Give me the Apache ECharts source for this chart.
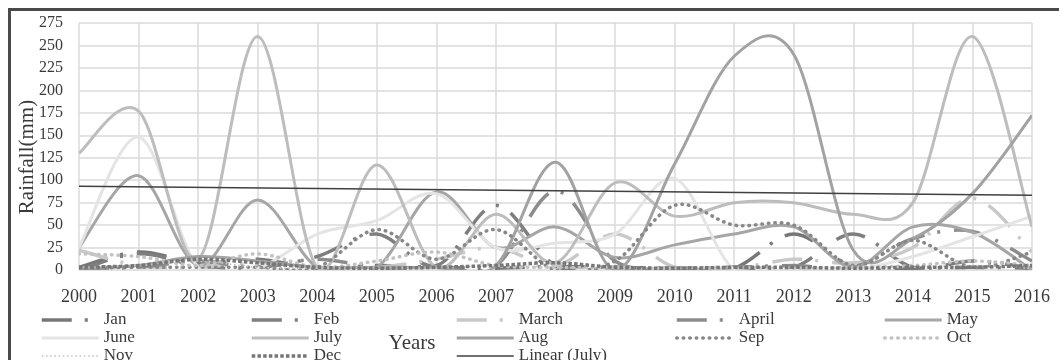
<!DOCTYPE html>
<html>
<head>
<meta charset="utf-8">
<title>Rainfall</title>
<script src="https://cdn.jsdelivr.net/npm/echarts@6/dist/echarts.min.js"></script>
<style>
  html, body { margin: 0; padding: 0; background: #fff; }
  #chart { width: 1059px; height: 360px; }
</style>
</head>
<body>
<div id="chart"></div>
<script>
// years on the x axis
const years = ["2000", "2001", "2002", "2003", "2004", "2005", "2006", "2007", "2008",
  "2009", "2010", "2011", "2012", "2013", "2014", "2015", "2016"];
const yTicks = { min: 0, max: 275, step: 25 };

// monthly rainfall (mm)
const jan   = [3, 20, 8, 12, 2, 5, 3, 2, 4, 3, 2, 2, 40, 3, 2, 3, 2];
const feb   = [0, 18, 5, 3, 15, 40, 5, 72, 5, 3, 2, 3, 3, 40, 3, 10, 2];
const march = [22, 5, 3, 8, 3, 3, 12, 25, 5, 40, 3, 2, 12, 8, 25, 80, 20];
const april = [2, 3, 10, 3, 12, 3, 3, 5, 88, 10, 2, 3, 5, 3, 35, 43, 10];
const may   = [25, 105, 5, 78, 3, 3, 87, 25, 48, 14, 28, 40, 48, 3, 48, 42, 0];
const june  = [25, 148, 3, 2, 40, 55, 85, 25, 30, 40, 102, 0, 0, 0, 15, 37, 60];
const july  = [130, 177, 12, 260, 3, 117, 3, 62, 8, 97, 60, 75, 75, 62, 75, 260, 48];
const aug   = [2, 5, 15, 10, 3, 3, 3, 5, 120, 0, 118, 238, 240, 22, 35, 85, 172];
const sep   = [2, 3, 3, 3, 3, 45, 12, 45, 0, 10, 72, 50, 50, 5, 33, 3, 20];
const oct   = [18, 15, 5, 18, 3, 10, 20, 5, 3, 3, 2, 3, 2, 3, 5, 10, 5];
const nov   = [3, 5, 10, 3, 2, 3, 2, 5, 3, 2, 2, 2, 3, 2, 3, 5, 2];
const dec   = [3, 5, 12, 8, 3, 2, 3, 5, 8, 3, 2, 3, 3, 2, 3, 3, 5];
// Linear (July) trend line, end points
const trendJuly = [["2000", 93.3], ["2016", 83.3]];

const serif = "Liberation Serif";
const dashDot = [30, 13, 3, 14];

const months = [
  { name: "Jan", data: jan, color: "#777777", width: 3.5, dash: dashDot },
  { name: "Feb", data: feb, color: "#7e7e7e", width: 3.5, dash: dashDot },
  { name: "March", data: march, color: "#c9c9c9", width: 3.5, dash: dashDot },
  { name: "April", data: april, color: "#8c8c8c", width: 3.5, dash: dashDot },
  { name: "May", data: may, color: "#a6a6a6", width: 3, dash: null },
  { name: "June", data: june, color: "#e4e4e4", width: 3, dash: null },
  { name: "July", data: july, color: "#bdbdbd", width: 3, dash: null },
  { name: "Aug", data: aug, color: "#a2a2a2", width: 3, dash: null },
  { name: "Sep", data: sep, color: "#888888", width: 3.5, dash: [0.5, 6], cap: "round" },
  { name: "Oct", data: oct, color: "#c2c2c2", width: 3.5, dash: [0.5, 6], cap: "round" },
  { name: "Nov", data: nov, color: "#c4c4c4", width: 1.6, dash: [1.6, 2.6] },
  { name: "Dec", data: dec, color: "#767676", width: 3.5, dash: [3.5, 2.2] }
];

// Excel style smoothed line: cubic pieces with Catmull-Rom tangents,
// every point placed with the grid's own coord()
function smoothPath(api, values) {
  const p = values.map((v, i) => api.coord([i, v]));
  let d = "M" + p[0][0] + " " + p[0][1];
  for (let i = 0; i < p.length - 1; i++) {
    const a = p[i - 1] || p[i];
    const b = p[i];
    const c = p[i + 1];
    const e = p[i + 2] || c;
    d += " C" + (b[0] + (c[0] - a[0]) / 6) + " " + (b[1] + (c[1] - a[1]) / 6) +
      " " + (c[0] - (e[0] - b[0]) / 6) + " " + (c[1] - (e[1] - b[1]) / 6) +
      " " + c[0] + " " + c[1];
  }
  return d;
}

const series = [];
// empty line series only to give the legend its line icons
months.forEach((m) => {
  series.push({
    name: m.name,
    type: "line",
    data: [],
    symbol: "none",
    lineStyle: { color: m.color, width: m.width, type: m.dash || "solid", cap: m.cap || "butt" },
    itemStyle: { color: m.color }
  });
});
series.push({
  name: "Linear (July)",
  type: "line",
  data: trendJuly,
  symbol: "none",
  lineStyle: { color: "#404040", width: 1.6 },
  itemStyle: { color: "#404040" },
  emphasis: { disabled: true },
  z: 3
});
months.forEach((m) => {
  series.push({
    name: m.name,
    type: "custom",
    coordinateSystem: "cartesian2d",
    clip: true,
    data: m.data.map((v, i) => [years[i], v]),
    encode: { x: 0, y: 1 },
    silent: true,
    z: 2,
    renderItem: function (params, api) {
      if (params.dataIndex !== 0) return null;
      return {
        type: "path",
        shape: { pathData: smoothPath(api, m.data) },
        style: {
          fill: "none",
          stroke: m.color,
          lineWidth: m.width,
          lineDash: m.dash || null,
          lineCap: m.cap || "butt"
        }
      };
    }
  });
});

// legend laid out in five columns, three rows
const columns = [
  { left: 40, names: ["Jan", "June", "Nov"] },
  { left: 250, names: ["Feb", "July", "Dec"] },
  { left: 455, names: ["March", "Aug", "Linear (July)"] },
  { left: 675, names: ["April", "Sep"] },
  { left: 883, names: ["May", "Oct"] }
];
function legendItem(name) {
  const m = months.find((x) => x.name === name);
  const width = m ? m.width : 1.6;
  return { name: name, lineStyle: { width: width } };
}
const legends = columns.map((c) => ({
  orient: "vertical",
  left: c.left,
  top: 311,
  height: 70,
  padding: 0,
  itemGap: 0,
  itemWidth: 57,
  itemHeight: 14,
  selectedMode: false,
  data: c.names.map(legendItem),
  itemStyle: { opacity: 0 },
  textStyle: { fontFamily: serif, fontSize: 17, color: "#3a3a3a", lineHeight: 18 }
}));

const gridLine = { show: true, lineStyle: { color: "#dadada", width: 1.5 } };

const option = {
  animation: false,
  backgroundColor: "#fff",
  grid: { left: 79, right: 27, top: 23, bottom: 90 },
  legend: legends,
  xAxis: {
    type: "category",
    data: years,
    boundaryGap: false,
    axisLine: { show: false },
    axisTick: { show: false },
    splitLine: gridLine,
    axisLabel: { fontFamily: serif, fontSize: 18, color: "#3a3a3a", margin: 18 }
  },
  yAxis: {
    type: "value",
    min: yTicks.min,
    max: yTicks.max,
    interval: yTicks.step,
    axisLine: { show: false },
    axisTick: { show: false },
    splitLine: gridLine,
    axisLabel: { fontFamily: serif, fontSize: 16, color: "#3a3a3a", margin: 16 }
  },
  graphic: [
    {
      type: "rect",
      shape: { x: 9.5, y: 9.5, width: 1200, height: 500 },
      style: { fill: null, stroke: "#4a4a4a", lineWidth: 3 },
      silent: true,
      z: 100
    },
    {
      type: "text",
      x: 27,
      y: 157,
      rotation: Math.PI / 2,
      style: {
        text: "Rainfall(mm)",
        fontFamily: serif,
        fontSize: 21,
        fill: "#3a3a3a",
        align: "center",
        verticalAlign: "middle"
      },
      silent: true
    },
    {
      type: "text",
      x: 412,
      y: 343,
      style: {
        text: "Years",
        fontFamily: serif,
        fontSize: 21,
        fill: "#3a3a3a",
        align: "center",
        verticalAlign: "middle"
      },
      silent: true
    }
  ],
  series: series
};

const chart = echarts.init(document.getElementById("chart"), null, { renderer: "canvas" });
chart.setOption(option);
</script>
</body>
</html>
